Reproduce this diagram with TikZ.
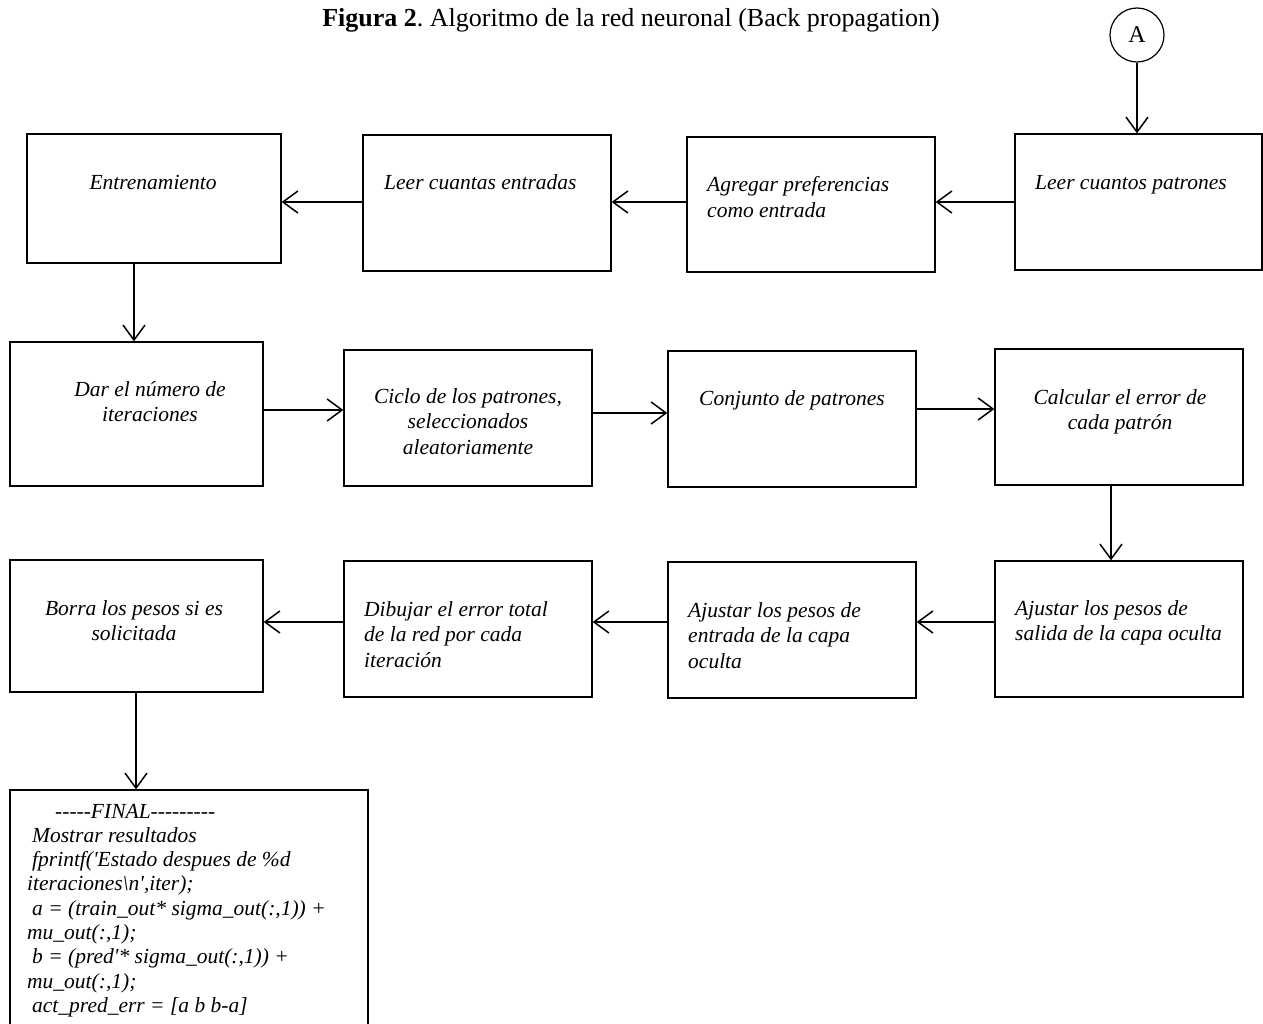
\documentclass[tikz,border=0pt]{standalone}
\usepackage{fontspec}
\setmainfont{Liberation Serif}
\newfontfamily\codefont{Liberation Serif}[Ligatures=TeXOff]
\usetikzlibrary{arrows.meta}
\frenchspacing
\begin{document}
\frenchspacing
\begin{tikzpicture}[x=1pt,y=-1pt,
  box/.style={draw, line width=1.3pt, inner sep=0pt},
  conn/.style={line width=1.5pt, -{Straight Barb[length=15pt,width=22pt,line width=1.5pt]}},
  txt/.style={inner sep=0pt, font=\fontsize{21.5}{25.5}\selectfont\itshape}
]
\useasboundingbox (0,0) rectangle (1263,1024);
\clip (0,0) rectangle (1263,1024);

% title
\node[anchor=base, inner sep=0pt, font=\fontsize{26}{30}\selectfont] (title) at (631,27)
  {\textbf{Figura 2}. Algoritmo de la red neuronal (Back propagation)};

% connector circle
\node[draw, circle, line width=1.2pt, minimum size=54pt, inner sep=0pt,
      font=\fontsize{24}{28}\selectfont] (A) at (1137,35) {A};

% boxes row 1
\node[box, minimum width=254pt, minimum height=129pt] (b1) at (154,198.5) {};
\node[box, minimum width=248pt, minimum height=136pt] (b2) at (487,203) {};
\node[box, minimum width=248pt, minimum height=135pt] (b3) at (811,204.5) {};
\node[box, minimum width=247pt, minimum height=136pt] (b4) at (1138.5,202) {};
% row 2
\node[box, minimum width=253pt, minimum height=144pt] (b5) at (136.5,414) {};
\node[box, minimum width=248pt, minimum height=136pt] (b6) at (468,418) {};
\node[box, minimum width=248pt, minimum height=136pt] (b7) at (792,419) {};
\node[box, minimum width=248pt, minimum height=136pt] (b8) at (1119,417) {};
% row 3
\node[box, minimum width=248pt, minimum height=136pt] (b9) at (1119,629) {};
\node[box, minimum width=248pt, minimum height=136pt] (b10) at (792,630) {};
\node[box, minimum width=248pt, minimum height=136pt] (b11) at (468,629) {};
\node[box, minimum width=253pt, minimum height=132pt] (b12) at (136.5,626) {};
% final
\node[box, minimum width=358pt, minimum height=270pt] (b13) at (189,925) {};

% texts
\node[txt, anchor=base] (t1) at (153,190) {\parbox[t]{240pt}{\centering Entrenamiento}};
\node[txt, anchor=base west] (t2) at (384,190) {\parbox[t]{225pt}{\raggedright Leer cuantas entradas}};
\node[txt, anchor=base west] (t3) at (707,192) {\parbox[t]{225pt}{\raggedright Agregar preferencias\\como entrada}};
\node[txt, anchor=base west] (t4) at (1035,190) {\parbox[t]{225pt}{\raggedright Leer cuantos patrones}};

\node[txt, anchor=base] (t5) at (150,396) {\parbox[t]{240pt}{\centering Dar el número de\\iteraciones}};
\node[txt, anchor=base] (t6) at (468,403) {\parbox[t]{240pt}{\centering Ciclo de los patrones,\\seleccionados\\aleatoriamente}};
\node[txt, anchor=base] (t7) at (792,405) {\parbox[t]{240pt}{\centering Conjunto de patrones}};
\node[txt, anchor=base] (t8) at (1120,404) {\parbox[t]{240pt}{\centering Calcular el error de\\cada patrón}};

\node[txt, anchor=base west] (t9) at (1015,615) {\parbox[t]{240pt}{\raggedright Ajustar los pesos de\\salida de la capa oculta}};
\node[txt, anchor=base west] (t10) at (688,617) {\parbox[t]{225pt}{\raggedright Ajustar los pesos de\\entrada de la capa\\oculta}};
\node[txt, anchor=base west] (t11) at (364,616) {\parbox[t]{225pt}{\raggedright Dibujar el error total\\de la red por cada\\iteración}};
\node[txt, anchor=base] (t12) at (134,615) {\parbox[t]{240pt}{\centering Borra los pesos si es\\solicitada}};

\node[inner sep=0pt, anchor=base west, font=\codefont\fontsize{21.5}{24.3}\selectfont\itshape] (t13) at (27,818) {\parbox[t]{340pt}{\raggedright
\hspace*{28pt}-----FINAL---------\\
\hspace*{5pt}Mostrar resultados\\
\hspace*{5pt}fprintf('Estado despues de \%d\\
iteraciones\textbackslash n',iter);\\
\hspace*{5pt}a = (train\_out* sigma\_out(:,1)) +\\
mu\_out(:,1);\\
\hspace*{5pt}b = (pred'* sigma\_out(:,1)) +\\
mu\_out(:,1);\\
\hspace*{5pt}act\_pred\_err = [a b b-a]}};

% connectors
\draw[conn] (A.south) -- (A.south |- b4.north);
\draw[conn] (b4.west |- 0,202) -- (b3.east |- 0,202);
\draw[conn] (b3.west |- 0,202) -- (b2.east |- 0,202);
\draw[conn] (b2.west |- 0,202) -- (b1.east |- 0,202);
\draw[conn] (b1.south -| 134,0) -- (b5.north -| 134,0);
\draw[conn] (b5.east |- 0,410) -- (b6.west |- 0,410);
\draw[conn] (b6.east |- 0,413) -- (b7.west |- 0,413);
\draw[conn] (b7.east |- 0,409) -- (b8.west |- 0,409);
\draw[conn] (b8.south -| 1111,0) -- (b9.north -| 1111,0);
\draw[conn] (b9.west |- 0,622) -- (b10.east |- 0,622);
\draw[conn] (b10.west |- 0,622) -- (b11.east |- 0,622);
\draw[conn] (b11.west |- 0,622) -- (b12.east |- 0,622);
\draw[conn] (b12.south -| 136,0) -- (b13.north -| 136,0);
\end{tikzpicture}
\end{document}
